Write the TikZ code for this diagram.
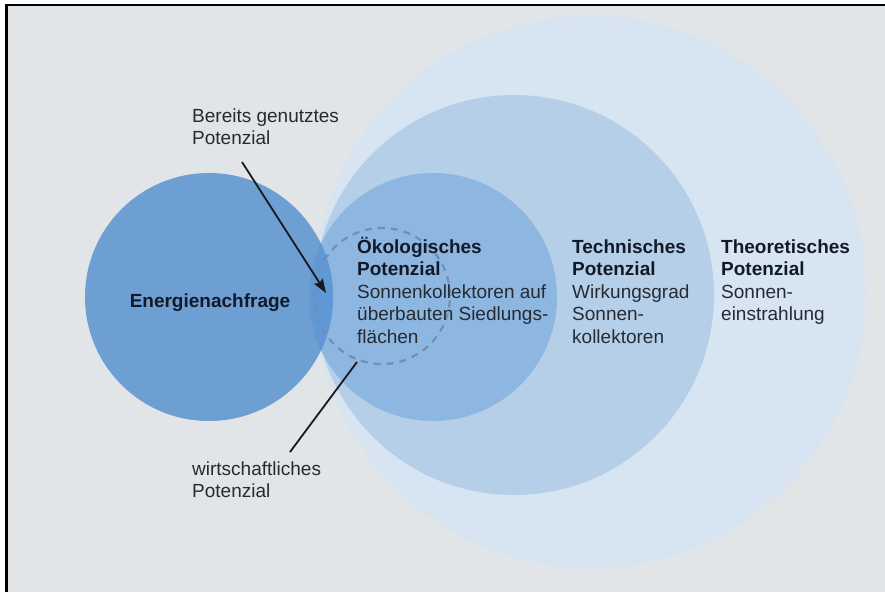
\documentclass[tikz,border=0pt]{standalone}
\usepackage{fontspec}
\setmainfont{Liberation Sans}
\usetikzlibrary{arrows.meta}
\definecolor{bgc}{HTML}{E1E5E8}
\definecolor{theoc}{HTML}{D7E4F1}
\definecolor{techc}{HTML}{B6CFE9}
\definecolor{ecoc}{HTML}{8DB6E0}
\definecolor{energyc}{HTML}{6E9FD3}
\definecolor{lensc}{HTML}{5F98D5}
\definecolor{dashc}{HTML}{6F8FB6}
\definecolor{txtc}{HTML}{262B33}
\definecolor{boldc}{HTML}{121A28}
\newcommand{\blockl}[1]{\begin{tabular}[t]{@{}l@{}}#1\end{tabular}}
\begin{document}
\begin{tikzpicture}[x=1pt,y=-1pt,
  disc/.style={circle, inner sep=0pt, draw=none},
  lbl/.style={inner sep=0pt, anchor=base west, text=txtc,
    font=\fontsize{19}{22.5}\selectfont},
  pointer/.style={line width=1.8pt, draw=black!90},
  hd/.style={text=boldc}]
\useasboundingbox (0,0) rectangle (885,592);
% paper and frame
\fill[white] (0,0) rectangle (885,592);
\fill[bgc] (7,5) rectangle (885,592);
\draw[line width=3pt] (6.5,592) -- (6.5,4);
\draw[line width=2pt] (5,5) -- (885,5);
% nested potential circles
\node[disc, fill=theoc, minimum size=552pt] (theo) at (590,292) {};
\node[disc, fill=techc, minimum size=400pt] (tech) at (514,295) {};
\node[disc, fill=ecoc, minimum size=248pt] (eco) at (433,297) {};
\node[disc, fill=energyc, minimum size=248pt] (energy) at (209,297) {};
% overlap of demand and ecological potential
\begin{scope}
  \clip (433,297) circle (124pt);
  \fill[lensc] (209,297) circle (124pt);
\end{scope}
% economic potential
\node[disc, draw=dashc, line width=2.2pt, dash pattern=on 7pt off 6pt,
  minimum size=136pt] (wirt) at (382,296) {};
% labels
\node[lbl, hd, anchor=base] (energylbl) at (210,307) {\textbf{Energienachfrage}};
\node[lbl] (ecolbl) at (357,253) {\blockl{\textcolor{boldc}{\textbf{Ökologisches}}\\
  \textcolor{boldc}{\textbf{Potenzial}}\\ Sonnenkollektoren auf\\
  überbauten Siedlungs-\\ flächen}};
\node[lbl] (techlbl) at (572,253) {\blockl{\textcolor{boldc}{\textbf{Technisches}}\\
  \textcolor{boldc}{\textbf{Potenzial}}\\ Wirkungsgrad\\ Sonnen-\\ kollektoren}};
\node[lbl] (theolbl) at (721,253) {\blockl{\textcolor{boldc}{\textbf{Theoretisches}}\\
  \textcolor{boldc}{\textbf{Potenzial}}\\ Sonnen-\\ einstrahlung}};
\node[lbl] (usedlbl) at (192,122) {\blockl{Bereits genutztes\\ Potenzial}};
\node[lbl] (wirtlbl) at (192,475) {\blockl{wirtschaftliches\\ Potenzial}};
% pointers
\coordinate (usedstart) at (242,162);
\coordinate (usedend) at (326,293);
\coordinate (wirtstart) at (357,362);
\coordinate (wirtend) at (290,452);
\draw[pointer, -{Stealth[length=14pt,width=10pt,inset=2pt]}] (usedstart) -- (usedend);
\draw[pointer] (wirtstart) -- (wirtend);
\end{tikzpicture}
\end{document}
